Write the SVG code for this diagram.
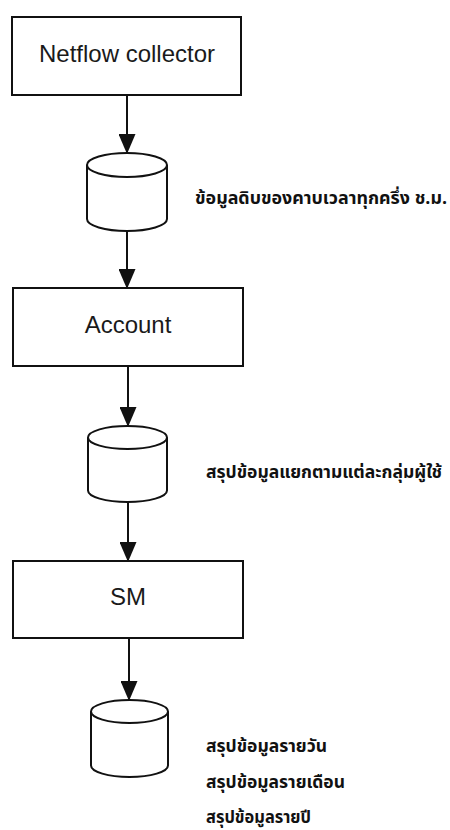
<svg xmlns="http://www.w3.org/2000/svg" width="450" height="830" viewBox="0 0 450 830">
  <style>
    .box { fill: #fff; stroke: #111; stroke-width: 2; }
    .db { fill: #fff; stroke: #111; stroke-width: 2; }
    .label { font-family: "Liberation Sans", Arial, sans-serif; font-size: 24px; fill: #1a1a1a; text-anchor: middle; }
    .note { font-family: "Noto Sans Thai", "Noto Sans", "DejaVu Sans", sans-serif; font-size: 17px; font-weight: bold; fill: #111; }
    .link { stroke: #111; stroke-width: 2; fill: none; marker-end: url(#arrow); }
  </style>
  <defs>
    <marker id="arrow" viewBox="0 0 20 17" refX="19" refY="8.5" markerWidth="20" markerHeight="17" markerUnits="userSpaceOnUse" orient="auto">
      <path d="M0,0 L20,8.5 L0,17 z" fill="#111"/>
    </marker>
  </defs>
  <rect width="450" height="830" fill="#fff"/>

  <g id="connectors">
    <line class="link" x1="127" y1="95" x2="127" y2="153"/>
    <line class="link" x1="127" y1="231" x2="127" y2="288"/>
    <line class="link" x1="128" y1="366" x2="128" y2="426"/>
    <line class="link" x1="128" y1="502" x2="128" y2="561"/>
    <line class="link" x1="129" y1="638" x2="129" y2="700"/>
  </g>

  <g id="netflow-collector">
    <rect class="box" x="12" y="17" width="229" height="78"/>
    <text class="label" x="127" y="62">Netflow collector</text>
  </g>

  <g id="raw-store">
    <path class="db" d="M87,165 V219 A40,12 0 0 0 167,219 V165"/>
    <ellipse class="db" cx="127" cy="165" rx="40" ry="12"/>
    <text class="note" x="195" y="204" textLength="252" lengthAdjust="spacingAndGlyphs">ข้อมูลดิบของคาบเวลาทุกครึ่ง ช.ม.</text>
  </g>

  <g id="account">
    <rect class="box" x="13" y="288" width="230" height="78"/>
    <text class="label" x="128" y="333">Account</text>
  </g>

  <g id="group-store">
    <path class="db" d="M88,437.5 V490.5 A39.5,11.5 0 0 0 167,490.5 V437.5"/>
    <ellipse class="db" cx="127.5" cy="437.5" rx="39.5" ry="11.5"/>
    <text class="note" x="206" y="478" textLength="236" lengthAdjust="spacingAndGlyphs">สรุปข้อมูลแยกตามแต่ละกลุ่มผู้ใช้</text>
  </g>

  <g id="sm">
    <rect class="box" x="13" y="561" width="230" height="77"/>
    <text class="label" x="128" y="605">SM</text>
  </g>

  <g id="summary-store">
    <path class="db" d="M91,711.5 V765.5 A38.5,11.5 0 0 0 168,765.5 V711.5"/>
    <ellipse class="db" cx="129.5" cy="711.5" rx="38.5" ry="11.5"/>
    <text class="note" x="206" y="752" textLength="121" lengthAdjust="spacingAndGlyphs">สรุปข้อมูลรายวัน</text>
    <text class="note" x="206" y="788" textLength="139" lengthAdjust="spacingAndGlyphs">สรุปข้อมูลรายเดือน</text>
    <text class="note" x="206" y="823" textLength="105" lengthAdjust="spacingAndGlyphs">สรุปข้อมูลรายปี</text>
  </g>
</svg>
